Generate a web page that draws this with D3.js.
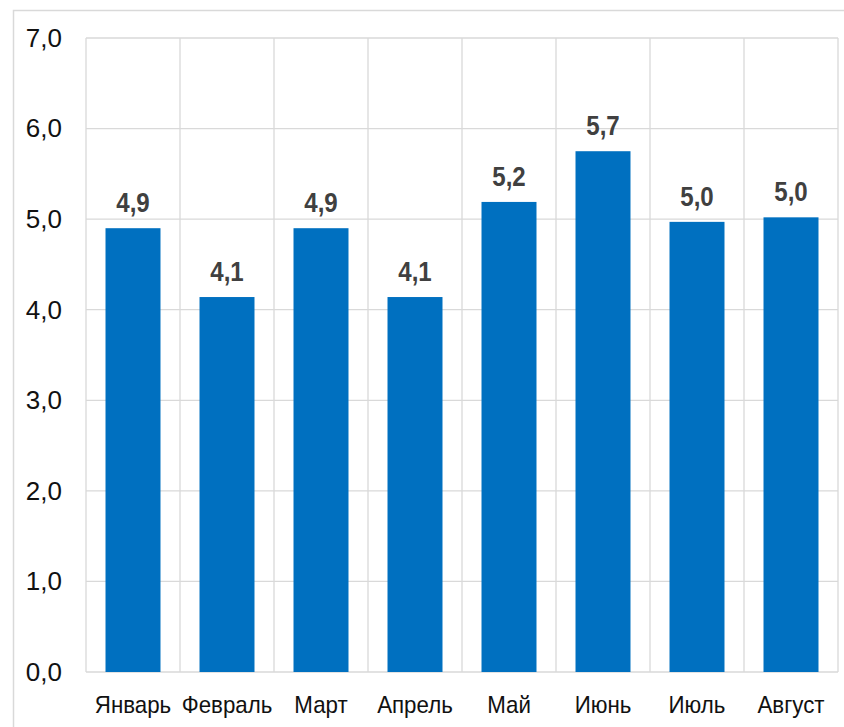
<!DOCTYPE html>
<html>
<head>
<meta charset="utf-8">
<script src="https://cdn.jsdelivr.net/npm/d3@7"></script>
<style>
  body { margin: 0; background: #fff; }
  text { font-family: "Liberation Sans", Arial, sans-serif; }
</style>
</head>
<body>
<div id="chart"></div>
<script>
var svgWidth = 844;
var svgHeight = 727;

var margin = { top: 38, right: 6, bottom: 55, left: 86 };

var width = svgWidth - margin.left - margin.right;
var height = svgHeight - margin.top - margin.bottom;

// data
var months = ["Январь", "Февраль", "Март", "Апрель", "Май", "Июнь", "Июль", "Август"];
var values = [4.9, 4.14, 4.9, 4.14, 5.19, 5.75, 4.97, 5.02];
var valueLabels = ["4,9", "4,1", "4,9", "4,1", "5,2", "5,7", "5,0", "5,0"];
var yTicks = [0, 1, 2, 3, 4, 5, 6, 7];

var svg = d3.select("#chart")
  .append("svg")
  .attr("width", svgWidth)
  .attr("height", svgHeight);

// outer frame
svg.append("rect")
  .attr("x", 13.5)
  .attr("y", 10.5)
  .attr("width", 840)
  .attr("height", 730)
  .attr("fill", "none")
  .attr("stroke", "#d9d9d9")
  .attr("stroke-width", 1.5);

var chartGroup = svg.append("g")
  .attr("transform", `translate(${margin.left}, ${margin.top})`);

var xScale = d3.scaleBand()
  .domain(months)
  .range([0, width])
  .paddingInner(0.415)
  .paddingOuter(0.2075);

var xGrid = d3.scaleBand()
  .domain(months)
  .range([0, width]);

var yScale = d3.scaleLinear()
  .domain([0, 7])
  .range([height, 0]);

// horizontal gridlines
chartGroup.append("g")
  .selectAll("line")
  .data(yTicks)
  .enter()
  .append("line")
  .attr("x1", 0)
  .attr("x2", width)
  .attr("y1", d => yScale(d))
  .attr("y2", d => yScale(d))
  .attr("stroke", "#d9d9d9")
  .attr("stroke-width", 1.3);

// vertical gridlines between categories
chartGroup.append("g")
  .selectAll("line")
  .data(months.concat(["end"]))
  .enter()
  .append("line")
  .attr("x1", (d, i) => i < months.length ? xGrid(d) : width)
  .attr("x2", (d, i) => i < months.length ? xGrid(d) : width)
  .attr("y1", 0)
  .attr("y2", height)
  .attr("stroke", "#d9d9d9")
  .attr("stroke-width", 1.3);

// y axis labels
var leftAxis = d3.axisLeft(yScale)
  .tickValues(yTicks)
  .tickSize(0)
  .tickPadding(24)
  .tickFormat(d => d3.format(".1f")(d).replace(".", ","));

var yAxis = chartGroup.append("g").call(leftAxis);
yAxis.select(".domain").remove();
yAxis.selectAll("text")
  .style("font-size", "26px")
  .style("font-family", "'Liberation Sans', Arial, sans-serif")
  .attr("fill", "#111");

// x axis labels
var bottomAxis = d3.axisBottom(xScale).tickSize(0).tickPadding(0);
var xAxis = chartGroup.append("g")
  .attr("transform", `translate(0, ${height})`)
  .call(bottomAxis);
xAxis.select(".domain").remove();
xAxis.selectAll("text")
  .style("font-size", "24px")
  .style("font-family", "'Liberation Sans', Arial, sans-serif")
  .attr("fill", "#111")
  .attr("y", 0)
  .attr("dy", 0)
  .attr("transform", "translate(0, 41) scale(0.93, 1)");

// bars
chartGroup.selectAll("rect.bar")
  .data(values)
  .enter()
  .append("rect")
  .attr("class", "bar")
  .attr("x", (d, i) => xScale(months[i]))
  .attr("y", d => yScale(d))
  .attr("width", xScale.bandwidth())
  .attr("height", d => height - yScale(d))
  .attr("fill", "#0070c0");

// value labels
chartGroup.selectAll("text.val")
  .data(values)
  .enter()
  .append("text")
  .attr("class", "val")
  .attr("text-anchor", "middle")
  .style("font-size", "28px")
  .style("font-weight", "bold")
  .attr("fill", "#404040")
  .attr("transform", (d, i) => `translate(${xScale(months[i]) + xScale.bandwidth() / 2}, ${yScale(d) - 16}) scale(0.86, 1)`)
  .text((d, i) => valueLabels[i]);
</script>
</body>
</html>
